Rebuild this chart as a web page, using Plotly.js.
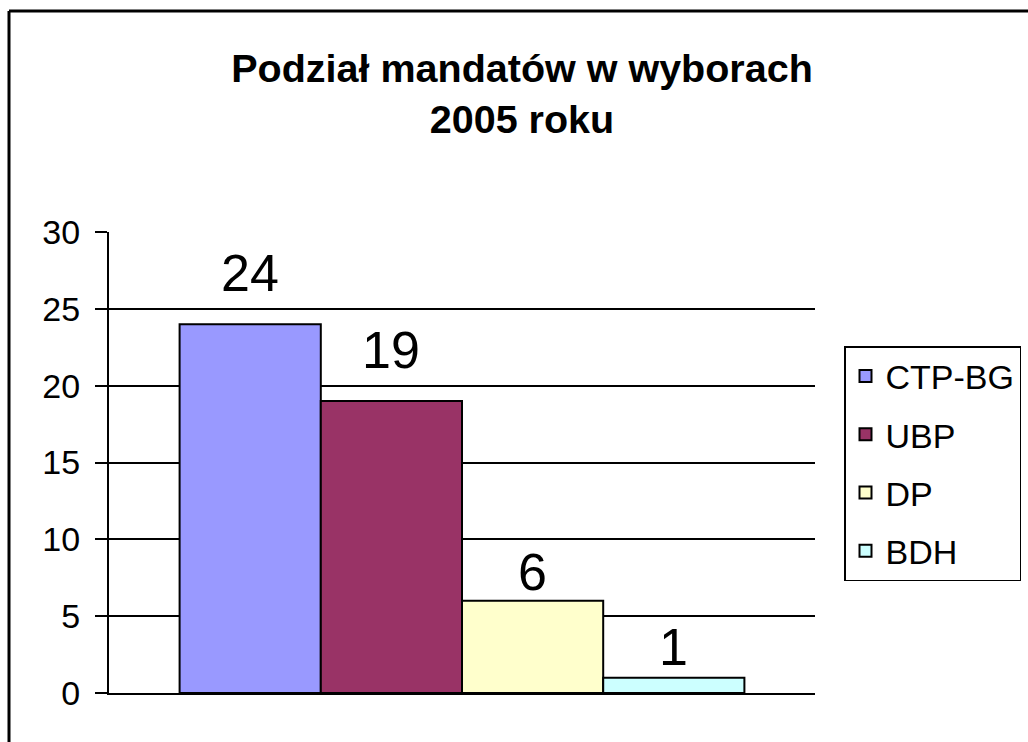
<!DOCTYPE html>
<html>
<head>
<meta charset="utf-8">
<script src="https://cdn.plot.ly/plotly-3.0.1.min.js"></script>
<style>
  html, body { margin: 0; padding: 0; background: #ffffff; }
  #chart { width: 1028px; height: 742px; }
</style>
</head>
<body>
<div id="chart"></div>
<script>
// ---- data ----
const category = 'Mandaty';
const parties = ['CTP-BG', 'UBP', 'DP', 'BDH'];
const seats = [24, 19, 6, 1];
const yTicks = [0, 5, 10, 15, 20, 25, 30];
const titleText = 'Podział mandatów w wyborach<br>2005 roku';

// ---- styles ----
const colors = ['#9999FF', '#993366', '#FFFFCC', '#CCFFFF'];
const labelShift = [20, 20, -2, 0];
const FONT = 'Arial, "Liberation Sans", Helvetica, sans-serif';

const traces = parties.map((name, i) => ({
  type: 'bar',
  name: name,
  x: [category],
  y: [seats[i]],
  legendgroup: name,
  marker: { color: colors[i], line: { color: '#000000', width: 2 } },
  hoverinfo: 'name+y'
}));

const nBars = parties.length;
const groupWidth = 0.8;
const annotations = parties.map((name, i) => ({
  xref: 'x', yref: 'y',
  x: -groupWidth / 2 + groupWidth / nBars * (i + 0.5),
  y: seats[i],
  text: String(seats[i]),
  showarrow: false,
  xanchor: 'center', yanchor: 'bottom',
  yshift: labelShift[i],
  font: { family: FONT, size: 52, color: '#000000' }
}));

const borderX = (9 - 109) / 706;
const borderY = (693 - 11) / 461;

const layout = {
  width: 1028, height: 742,
  margin: { l: 109, r: 213, t: 232, b: 49, autoexpand: false },
  paper_bgcolor: '#ffffff', plot_bgcolor: '#ffffff',
  font: { family: FONT, color: '#000000' },
  title: {
    text: titleText,
    font: { family: FONT, size: 39.5, color: '#000000', weight: 'bold' },
    x: 522 / 1028, xanchor: 'center',
    yref: 'container', y: 1 - 82 / 742, yanchor: 'top'
  },
  barmode: 'group',
  bargap: 1 - groupWidth,
  bargroupgap: 0,
  showlegend: true,
  legend: {
    x: (844 - 109) / 706, xanchor: 'left',
    y: (693 - 346) / 461, yanchor: 'top',
    bordercolor: '#000000', borderwidth: 1.5, bgcolor: '#ffffff',
    font: { family: FONT, size: 34, color: '#000000' },
    traceorder: 'grouped',
    tracegroupgap: 11,
    itemclick: false, itemdoubleclick: false
  },
  xaxis: {
    type: 'category',
    showticklabels: false,
    ticks: '',
    showgrid: false,
    showline: true, linecolor: '#000000', linewidth: 2,
    zeroline: false,
    fixedrange: true
  },
  yaxis: {
    range: [0, 30],
    tickvals: yTicks,
    ticktext: yTicks.map(String),
    ticks: 'outside', ticklen: 12, tickwidth: 2, tickcolor: '#000000',
    ticklabelstandoff: 8,
    tickfont: { family: FONT, size: 34, color: '#000000' },
    showgrid: true, gridcolor: '#000000', gridwidth: 2,
    showline: true, linecolor: '#000000', linewidth: 2,
    zeroline: false,
    fixedrange: true
  },
  annotations: annotations,
  shapes: [
    {
      type: 'line', xref: 'paper', yref: 'paper',
      x0: borderX, x1: 1.6, y0: borderY, y1: borderY,
      line: { color: '#000000', width: 3 }, layer: 'above'
    },
    {
      type: 'line', xref: 'paper', yref: 'paper',
      x0: borderX, x1: borderX, y0: -0.3, y1: borderY,
      line: { color: '#000000', width: 3 }, layer: 'above'
    }
  ]
};

Plotly.newPlot('chart', traces, layout, { displayModeBar: false, staticPlot: true });
</script>
</body>
</html>
